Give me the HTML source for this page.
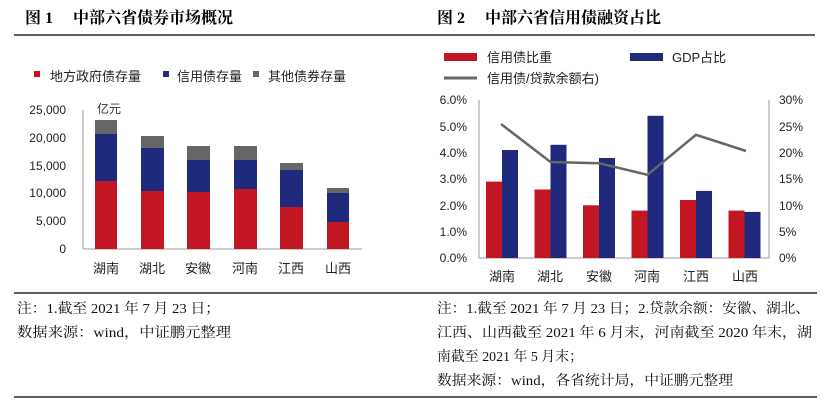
<!DOCTYPE html>
<html><head><meta charset="utf-8"><style>
body{margin:0;background:#fff;}
svg{display:block;font-family:"Liberation Sans","Noto Sans CJK SC",sans-serif;}
.t{font-family:"Liberation Serif","Noto Serif CJK SC",serif;font-weight:bold;font-size:16px;}
.n{font-family:"Liberation Serif","Noto Serif CJK SC",serif;font-size:14px;}
</style></head><body>
<svg width="834" height="406" viewBox="0 0 834 406">
<text x="25" y="23" class="t">图 1</text><text x="73" y="23" class="t">中部六省债券市场概况</text>
<text x="437" y="23" class="t">图 2</text><text x="485" y="23" class="t">中部六省信用债融资占比</text>
<line x1="14" y1="35" x2="815" y2="35" stroke="#000" stroke-width="1.3"/>
<g font-size="13" fill="#222">
<rect x="34" y="71" width="6" height="6" fill="#c21623"/><text x="50" y="81">地方政府债存量</text>
<rect x="163" y="71" width="6" height="6" fill="#1f2a7d"/><text x="177" y="81">信用债存量</text>
<rect x="253" y="71" width="6" height="6" fill="#666"/><text x="268" y="81">其他债券存量</text>
</g>
<g font-size="12" fill="#222" text-anchor="end">
<text x="66" y="114">25,000</text><text x="66" y="142">20,000</text><text x="66" y="170">15,000</text>
<text x="66" y="197">10,000</text><text x="66" y="225">5,000</text><text x="66" y="253">0</text>
</g>
<text x="97" y="113" font-size="12" fill="#333">亿元</text>
<line x1="83" y1="110" x2="83" y2="249" stroke="#999"/>
<line x1="83" y1="249" x2="362" y2="249" stroke="#999"/>
<g>
<rect x="95" y="120" width="22" height="14" fill="#666"/><rect x="95" y="134" width="22" height="47" fill="#1f2a7d"/><rect x="95" y="181" width="22" height="68" fill="#c21623"/>
<rect x="141" y="136" width="23" height="12" fill="#666"/><rect x="141" y="148" width="23" height="43" fill="#1f2a7d"/><rect x="141" y="191" width="23" height="58" fill="#c21623"/>
<rect x="187" y="146" width="23" height="14" fill="#666"/><rect x="187" y="160" width="23" height="32" fill="#1f2a7d"/><rect x="187" y="192" width="23" height="57" fill="#c21623"/>
<rect x="234" y="146" width="23" height="14" fill="#666"/><rect x="234" y="160" width="23" height="29" fill="#1f2a7d"/><rect x="234" y="189" width="23" height="60" fill="#c21623"/>
<rect x="280" y="163" width="23" height="7" fill="#666"/><rect x="280" y="170" width="23" height="37" fill="#1f2a7d"/><rect x="280" y="207" width="23" height="42" fill="#c21623"/>
<rect x="327" y="188" width="22" height="5" fill="#666"/><rect x="327" y="193" width="22" height="29" fill="#1f2a7d"/><rect x="327" y="222" width="22" height="27" fill="#c21623"/>
</g>
<g font-size="13" fill="#222" text-anchor="middle">
<text x="106" y="273">湖南</text><text x="152" y="273">湖北</text><text x="198" y="273">安徽</text>
<text x="245" y="273">河南</text><text x="291" y="273">江西</text><text x="338" y="273">山西</text>
</g>
<g font-size="13" fill="#222">
<rect x="444" y="53" width="33" height="8" fill="#c21623"/><text x="487" y="62">信用债比重</text>
<rect x="630" y="53" width="33" height="8" fill="#1f2a7d"/><text x="672" y="62">GDP占比</text>
<line x1="444" y1="78" x2="477" y2="78" stroke="#666" stroke-width="3"/><text x="487" y="83">信用债/贷款余额右)</text>
</g>
<g font-size="12" fill="#222" text-anchor="end">
<text x="467" y="104">6.0%</text><text x="467" y="131">5.0%</text><text x="467" y="157">4.0%</text>
<text x="467" y="183">3.0%</text><text x="467" y="210">2.0%</text><text x="467" y="236">1.0%</text><text x="467" y="262">0.0%</text>
</g>
<g font-size="12" fill="#222">
<text x="779" y="104">30%</text><text x="779" y="131">25%</text><text x="779" y="157">20%</text>
<text x="779" y="183">15%</text><text x="779" y="210">10%</text><text x="779" y="236">5%</text><text x="779" y="262">0%</text>
</g>
<line x1="479" y1="100" x2="479" y2="258" stroke="#999"/>
<line x1="769" y1="100" x2="769" y2="258" stroke="#999"/>
<line x1="479" y1="258" x2="769" y2="258" stroke="#999"/>
<g fill="#c21623">
<rect x="486" y="181.6" width="16" height="76.4"/><rect x="534.5" y="189.5" width="16" height="68.5"/>
<rect x="583" y="205.3" width="16" height="52.7"/><rect x="631.5" y="210.6" width="16" height="47.4"/>
<rect x="680" y="200" width="16" height="58"/><rect x="728.5" y="210.6" width="16" height="47.4"/>
</g>
<g fill="#1f2a7d">
<rect x="502" y="150" width="16" height="108"/><rect x="550.5" y="144.8" width="16" height="113.2"/>
<rect x="599" y="158" width="16" height="100"/><rect x="647.5" y="115.8" width="16" height="142.2"/>
<rect x="696" y="190.9" width="16" height="67.1"/><rect x="744.5" y="211.9" width="16" height="46.1"/>
</g>
<polyline points="501,124 550.5,162 599,163.2 647.5,174.8 696,134.8 746,151" fill="none" stroke="#666" stroke-width="2.5"/>
<g font-size="13" fill="#222" text-anchor="middle">
<text x="502" y="281">湖南</text><text x="550" y="281">湖北</text><text x="599" y="281">安徽</text>
<text x="647" y="281">河南</text><text x="696" y="281">江西</text><text x="745" y="281">山西</text>
</g>
<line x1="14" y1="293" x2="817" y2="293" stroke="#000" stroke-width="1.3"/>
<g class="n" fill="#111">
<text x="17" y="313" textLength="203" lengthAdjust="spacingAndGlyphs">注：1.截至 2021 年 7 月 23 日；</text>
<text x="17" y="337" textLength="214" lengthAdjust="spacingAndGlyphs">数据来源：wind，中证鹏元整理</text>
<text x="437" y="313" textLength="373" lengthAdjust="spacingAndGlyphs">注：1.截至 2021 年 7 月 23 日；2.贷款余额：安徽、湖北、</text>
<text x="437" y="337" textLength="375" lengthAdjust="spacingAndGlyphs">江西、山西截至 2021 年 6 月末，河南截至 2020 年末，湖</text>
<text x="437" y="361" textLength="146" lengthAdjust="spacingAndGlyphs">南截至 2021 年 5 月末；</text>
<text x="437" y="385" textLength="296" lengthAdjust="spacingAndGlyphs">数据来源：wind，各省统计局，中证鹏元整理</text>
</g>
<line x1="14" y1="397" x2="817" y2="397" stroke="#000" stroke-width="1.3"/>
</svg>
</body></html>
